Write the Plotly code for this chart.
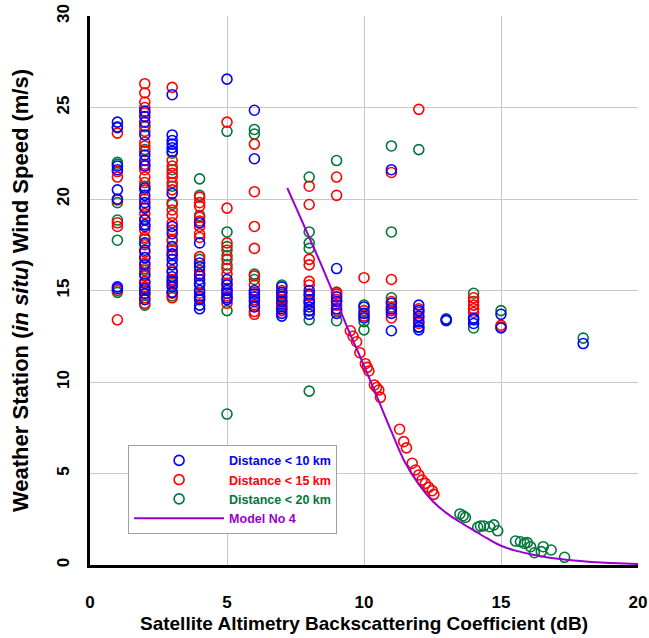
import plotly.graph_objects as go

# ---------------- data ----------------
blue_cols = {
    1: [24.2, 23.9, 21.8, 21.6, 20.5, 20.0, 15.2, 15.1],
    2: [24.8, 24.5, 24.2, 23.5, 22.4, 22.1, 21.8, 20.6, 20.2, 19.8, 19.5, 18.85, 18.6, 18.5,
        17.6, 17.2, 16.8, 16.4, 15.9, 15.4, 15.1, 14.85, 14.5],
    3: [25.7, 23.5, 23.2, 23.0, 22.8, 22.6, 20.3, 18.5, 18.1, 17.4, 17.0, 16.7, 16.4, 16.0,
        15.75, 15.5, 15.2, 14.9],
    4: [18.7, 17.6, 16.5, 16.3, 15.9, 15.6, 15.3, 15.0, 14.7, 14.5, 14.2, 14.0],
    5: [26.55, 15.6, 15.3, 15.0, 14.85, 14.6, 14.5],
    6: [24.85, 22.2, 15.0, 14.8, 14.65, 14.4, 14.1],
    7: [15.2, 14.9, 14.65, 14.4, 14.0, 13.75, 13.6],
    8: [15.0, 14.8, 14.5, 14.3, 14.1, 13.9, 13.7],
    9: [16.2, 14.65, 14.4, 14.0, 13.75],
    10: [14.1, 13.75, 13.5],
    11: [21.6, 14.3, 14.0, 13.75, 12.8],
    12: [14.2, 13.9, 13.6, 13.3, 13.0, 12.85],
    13: [13.4, 13.35],
    14: [13.5, 13.4, 13.2],
    15: [13.7, 12.95],
    18: [12.1],
}

red_cols = {
    1: [23.6, 21.5, 21.2, 19.95, 18.7, 18.5, 15.0, 13.4],
    2: [26.3, 25.8, 25.3, 25.0, 24.7, 24.0, 23.7, 23.1, 22.9, 22.6, 21.9, 21.6, 21.2, 20.9,
        20.5, 20.0, 19.6, 19.2, 18.9, 18.3, 17.9, 17.5, 17.1, 16.8, 16.5, 16.2, 15.8, 15.5,
        15.2, 14.8, 14.6, 14.3],
    3: [26.1, 22.1, 21.8, 21.4, 21.2, 20.9, 20.5, 19.8, 19.4, 19.1, 18.7, 18.3, 17.7, 17.2,
        16.9, 16.1, 15.6, 15.4, 14.9, 14.85, 14.6],
    4: [20.1, 19.8, 19.6, 19.0, 18.8, 18.5, 18.1, 17.9, 16.85, 16.1, 15.8, 15.4, 14.85, 14.6],
    5: [24.2, 19.5, 17.6, 17.2, 16.7, 16.2, 15.9, 15.4, 15.1, 14.7, 14.3],
    6: [23.0, 20.4, 18.5, 17.3, 15.8, 15.3, 14.9, 14.5, 14.2, 13.85, 13.7],
    7: [15.0, 14.8, 14.5, 14.3, 14.1, 13.9],
    8: [20.7, 19.7, 16.7, 16.4, 15.5, 15.3, 14.7, 14.4, 13.9],
    9: [21.2, 20.2, 14.9, 14.8, 14.5, 14.2, 13.9],
    10: [15.7, 13.9, 13.6],
    11: [21.45, 15.6, 14.4, 14.1, 13.9, 13.5],
    12: [24.9, 14.0, 13.8, 13.5, 13.2],
    14: [14.6, 14.4, 14.2, 14.0, 13.8],
    15: [13.1, 13.0],
}
red_curve_x = [9.5, 9.6, 9.73, 9.85, 10.05, 10.12, 10.18, 10.38, 10.46, 10.54, 10.6,
               11.3, 11.45, 11.55, 11.76, 11.88, 12.0, 12.12, 12.24, 12.36, 12.49, 12.55]
red_curve_y = [12.8, 12.5, 12.2, 11.6, 11.0, 10.8, 10.6, 9.84, 9.7, 9.56, 9.16,
               7.42, 6.74, 6.4, 5.56, 5.19, 4.92, 4.64, 4.46, 4.24, 4.06, 3.86]

green_cols = {
    1: [23.95, 22.0, 21.9, 19.8, 18.85, 17.75, 14.9],
    2: [23.95, 22.7, 20.7, 17.8, 16.1, 15.0, 14.2],
    3: [22.5, 21.6, 20.7, 19.7, 17.8, 15.3, 14.7],
    4: [21.1, 20.2, 19.1, 16.7, 15.4],
    5: [23.7, 18.2, 17.4, 16.9, 16.4, 13.9, 8.25],
    6: [23.8, 23.55, 15.9, 15.6],
    7: [15.3, 14.2],
    8: [21.2, 18.2, 17.6, 17.3, 13.4, 9.5],
    9: [22.1, 14.9, 13.35],
    10: [14.2, 13.3, 12.85],
    11: [22.9, 18.2, 14.6],
    12: [22.7, 13.0],
    13: [13.45],
    14: [14.85, 12.95],
    15: [13.9],
    18: [12.4],
}
green_tail_x = [13.5, 13.62, 13.7, 14.15, 14.25, 14.37, 14.59, 14.74, 14.88, 15.53, 15.71,
                15.86, 15.96, 16.08, 16.22, 16.47, 16.54, 16.83, 17.32]
green_tail_y = [2.79, 2.69, 2.6, 2.06, 2.13, 2.13, 2.09, 2.19, 1.87, 1.31, 1.27,
                1.18, 1.22, 1.0, 0.67, 0.73, 1.0, 0.82, 0.42]

model_x = [7.2, 7.5, 8.0, 8.5, 9.0, 9.5, 10.0, 10.5, 11.0, 11.5, 12.0, 12.5, 13.0, 13.5,
           14.0, 14.5, 15.0, 15.5, 16.0, 16.5, 17.0, 17.5, 18.0, 18.5, 19.0, 19.5, 20.0]
model_y = [20.6, 19.6, 17.9, 16.2, 14.4, 12.6, 10.9, 9.1, 7.3, 5.6, 4.4, 3.5, 2.85, 2.35,
           1.9, 1.45, 1.05, 0.8, 0.62, 0.47, 0.35, 0.27, 0.2, 0.15, 0.11, 0.08, 0.06]

x_range = [0, 20]
y_range = [0, 30]
x_major = [0, 5, 10, 15, 20]
x_minor = [1, 2, 3, 4, 6, 7, 8, 9, 11, 12, 13, 14, 16, 17, 18, 19]
y_major = [0, 5, 10, 15, 20, 25, 30]
y_minor = [1, 2, 3, 4, 6, 7, 8, 9, 11, 12, 13, 14, 16, 17, 18, 19,
           21, 22, 23, 24, 26, 27, 28, 29]
x_labels = ["0", "5", "10", "15", "20"]
y_labels = ["0", "5", "10", "15", "20", "25", "30"]


def flatten(cols, extra_x=(), extra_y=()):
    xs, ys = [], []
    for k, vals in cols.items():
        xs += [k] * len(vals)
        ys += list(vals)
    xs += list(extra_x)
    ys += list(extra_y)
    return xs, ys


BLUE, RED, GREEN, PURPLE = "#0000FF", "#FF0000", "#00763A", "#9900CC"
FONT = "Liberation Sans, Arial, sans-serif"

gx, gy = flatten(green_cols, green_tail_x, green_tail_y)
rx, ry = flatten(red_cols, red_curve_x, red_curve_y)
bx, by = flatten(blue_cols)

fig = go.Figure()


def mk(color):
    return dict(symbol="circle-open", size=10, color=color, line=dict(width=1.6, color=color))


fig.add_trace(go.Scatter(x=gx, y=gy, mode="markers", marker=mk(GREEN), legendrank=3,
                         name=f'<span style="color:{GREEN}"><b>Distance &lt; 20 km</b></span>'))
fig.add_trace(go.Scatter(x=rx, y=ry, mode="markers", marker=mk(RED), legendrank=2,
                         name=f'<span style="color:{RED}"><b>Distance &lt; 15 km</b></span>'))
fig.add_trace(go.Scatter(x=bx, y=by, mode="markers", marker=mk(BLUE), legendrank=1,
                         name=f'<span style="color:{BLUE}"><b>Distance &lt; 10 km</b></span>'))
fig.add_trace(go.Scatter(x=model_x, y=model_y, mode="lines", line=dict(color=PURPLE, width=2,
                         shape="spline"), legendrank=4,
                         name=f'<span style="color:{PURPLE}"><b>Model No 4</b></span>'))

# tick marks just outside the axes, as short line markers placed on the axis scales
X_UNIT_PX = 547 / (x_range[1] - x_range[0])
Y_UNIT_PX = 548 / (y_range[1] - y_range[0])


def tick_trace(vals, axis, length, offset_px):
    if axis == "x":
        xs, ys, sym = vals, [-offset_px / Y_UNIT_PX] * len(vals), "line-ns"
    else:
        xs, ys, sym = [-offset_px / X_UNIT_PX] * len(vals), vals, "line-ew"
    return go.Scatter(x=xs, y=ys, mode="markers", cliponaxis=False, showlegend=False,
                      hoverinfo="skip",
                      marker=dict(symbol=sym, size=length, color="black",
                                  line=dict(width=2.2, color="black")))


fig.add_trace(tick_trace(x_major, "x", 11, 8.5))
fig.add_trace(tick_trace(x_minor, "x", 6, 5))
fig.add_trace(tick_trace(y_major, "y", 10, 6.5))
fig.add_trace(tick_trace(y_minor, "y", 5, 4))

axis_base = dict(showgrid=True, gridcolor="#C8C8C8", gridwidth=1,
                 showline=True, linecolor="black", linewidth=3, zeroline=False,
                 ticks="outside", tickcolor="rgba(0,0,0,0)", tickwidth=1,
                 showticklabels=True, tickmode="array",
                 tickfont=dict(family=FONT, size=17, color="black"))

fig.update_layout(
    template="none",
    width=649, height=638,
    margin=dict(l=90, r=11, t=16, b=73, autoexpand=False),
    paper_bgcolor="white", plot_bgcolor="white",
    font=dict(family=FONT, size=17, color="black"),
    xaxis=dict(axis_base, range=x_range, tickvals=x_major, ticklen=20,
               ticktext=[f"<b>{t}</b>" for t in x_labels],
               title=dict(text="<b>Satellite Altimetry Backscattering Coefficient (dB)</b>",
                          font=dict(family=FONT, size=19, color="black"), standoff=6)),
    yaxis=dict(axis_base, range=y_range, tickvals=y_major, ticklen=11, tickangle=-90,
               ticktext=[f"<b>{t}</b>" for t in y_labels],
               title=dict(text="<b>Weather Station (<i>in situ</i>) Wind Speed (m/s)</b>",
                          font=dict(family=FONT, size=22, color="black"), standoff=20)),
    legend=dict(x=0.0695, y=0.219, xanchor="left", yanchor="top",
                bgcolor="white", bordercolor="#A0A0A0", borderwidth=1,
                font=dict(family=FONT, size=12.5),
                itemwidth=90, tracegroupgap=0),
    showlegend=True,
)

fig.write_html("out.html", config={"displayModeBar": False},
               post_script="document.body.style.margin='0';")
